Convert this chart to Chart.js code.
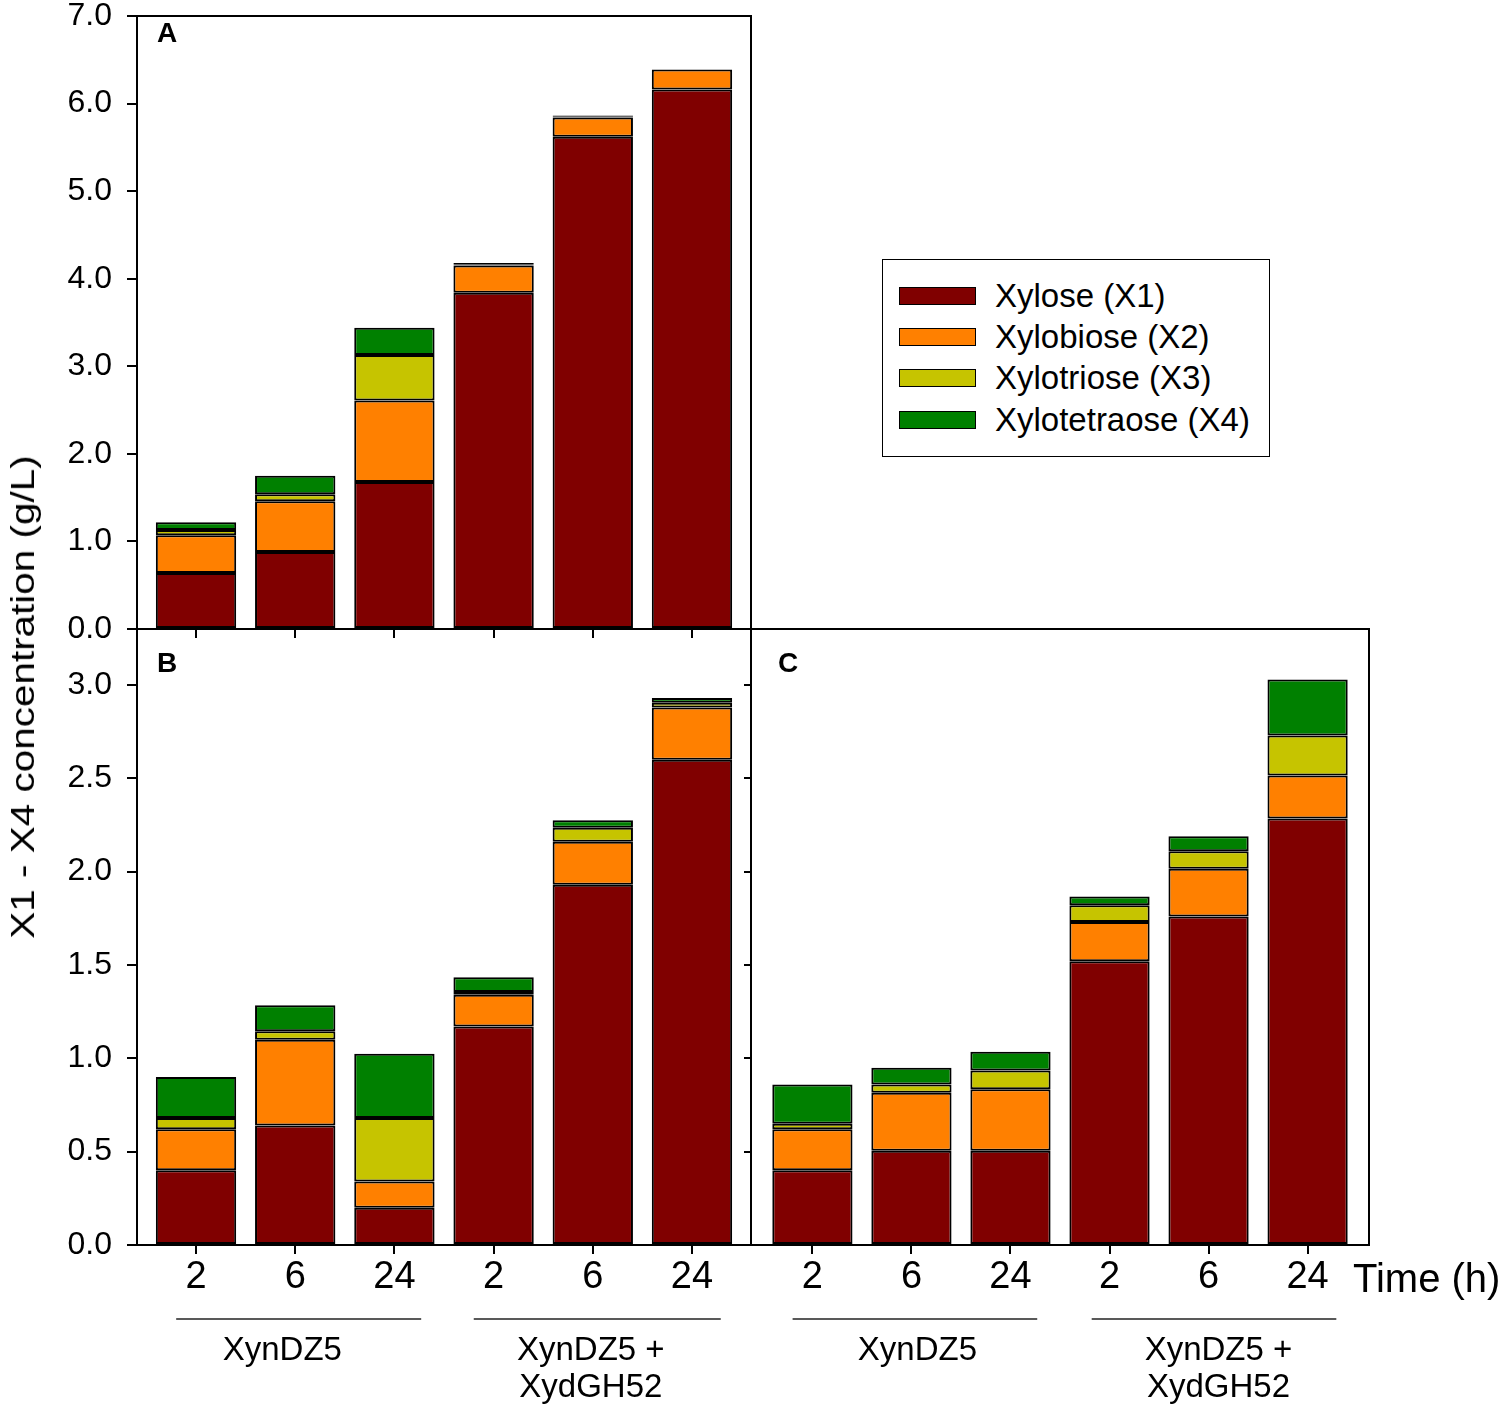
<!DOCTYPE html>
<html>
<head>
<meta charset="utf-8">
<script src="https://cdn.jsdelivr.net/npm/chart.js@4.4.1/dist/chart.umd.min.js"></script>
<style>
html,body{margin:0;padding:0;background:#fff;}
#wrap{position:relative;width:1500px;height:1408px;overflow:hidden;background:#fff;font-family:'Liberation Sans',Arial,sans-serif;color:#000;}
canvas{position:absolute;}
#cA{left:0;top:0;}
#cB{left:0;top:610px;}
#cC{left:740px;top:610px;}
#ytitle{position:absolute;left:22px;top:697px;font-size:34px;line-height:1;white-space:nowrap;transform:translate(-50%,-50%) rotate(-90deg) scale(1.19,1);}
#legend{position:absolute;left:882px;top:259px;width:386px;height:196px;border:1.5px solid #000;background:#fff;}
.lrow{position:absolute;left:0;width:386px;height:40px;}
.sw{position:absolute;left:16px;top:11px;width:75px;height:16px;border:1px solid #000;}
.lt{position:absolute;left:112px;top:0;height:40px;line-height:40px;font-size:33px;white-space:nowrap;}
</style>
</head>
<body>
<div id="wrap">
  <canvas id="cA" width="760" height="660"></canvas>
  <canvas id="cB" width="760" height="798"></canvas>
  <canvas id="cC" width="760" height="798"></canvas>
  <div id="ytitle">X1 - X4 concentration (g/L)</div>
  <div id="legend"></div>
</div>
<script>
// ---------- data ----------
const timeLabels = ['2', '6', '24', '2', '6', '24'];
const groupNames = ['XynDZ5', ['XynDZ5 +', 'XydGH52']];
const seriesNames = ['Xylose (X1)', 'Xylobiose (X2)', 'Xylotriose (X3)', 'Xylotetraose (X4)'];

const yTicksA = [0, 1, 2, 3, 4, 5, 6, 7];
const yTicksBC = [0, 0.5, 1.0, 1.5, 2.0, 2.5, 3.0];

// Panel A
const xyloseA      = [0.64, 0.88, 1.68, 3.84, 5.62, 6.16];
const xylobioseA   = [0.43, 0.58, 0.93, 0.31, 0.22, 0.23];
const xylotrioseA  = [0.06, 0.08, 0.52, 0.01, 0.01, 0.00];
const xylotetraA   = [0.09, 0.21, 0.31, 0.02, 0.015, 0.00];

// Panel B
const xyloseB      = [0.40, 0.64, 0.20, 1.17, 1.93, 2.60];
const xylobioseB   = [0.22, 0.46, 0.14, 0.17, 0.23, 0.28];
const xylotrioseB  = [0.06, 0.045, 0.34, 0.015, 0.075, 0.025];
const xylotetraB   = [0.22, 0.14, 0.345, 0.08, 0.04, 0.025];

// Panel C
const xyloseC      = [0.40, 0.505, 0.505, 1.52, 1.76, 2.285];
const xylobioseC   = [0.22, 0.31, 0.33, 0.21, 0.255, 0.23];
const xylotrioseC  = [0.03, 0.045, 0.10, 0.09, 0.095, 0.215];
const xylotetraC   = [0.21, 0.09, 0.10, 0.047, 0.08, 0.30];

// ---------- styles ----------
const seriesColors = ['#800000', '#FF8000', '#C6C400', '#008000'];
const FONT = "'Liberation Sans', Arial, sans-serif";
Chart.defaults.font.family = FONT;
Chart.defaults.color = '#000';

function ds(vals, k) {
  return {
    label: seriesNames[k],
    data: vals.map((v, i) => ({ x: i, y: v })),
    backgroundColor: seriesColors[k],
    borderColor: '#000',
    borderWidth: 2,
    borderSkipped: false,
    barPercentage: 0.81,
    categoryPercentage: 1
  };
}

const decor = {
  id: 'decor',
  afterDraw(chart, args, o) {
    const { ctx, chartArea: a, scales: { x } } = chart;
    ctx.save();
    ctx.strokeStyle = '#000';
    ctx.lineWidth = 2;
    ctx.strokeRect(a.left, a.top, a.right - a.left, a.bottom - a.top);
    ctx.fillStyle = '#000';
    ctx.font = 'bold 28px ' + FONT;
    ctx.textBaseline = 'middle';
    ctx.textAlign = 'left';
    ctx.fillText(o.letter, a.left + o.lx, a.top + o.ly);
    if (o.groups) {
      ctx.lineWidth = 1.5;
      ctx.strokeStyle = '#222';
      ctx.font = '33px ' + FONT;
      ctx.textAlign = 'center';
      o.groups.forEach((g, k) => {
        const y = a.bottom + 74;
        ctx.beginPath();
        ctx.moveTo(x.getPixelForValue(g.from), y);
        ctx.lineTo(x.getPixelForValue(g.to), y);
        ctx.stroke();
        [].concat(groupNames[k]).forEach((t, j) => {
          ctx.fillText(t, x.getPixelForValue(g.at), a.bottom + 106 + j * 37);
        });
      });
    }
    if (o.time) {
      ctx.font = '40px ' + FONT;
      ctx.textAlign = 'left';
      ctx.fillText('Time (h)', a.right - 16, a.bottom + 36);
    }
    ctx.restore();
  }
};

function fixFit(w, h) {
  return (s) => {
    if (w !== null) s.width = w;
    if (h !== null) s.height = h;
    s.paddingTop = 0; s.paddingBottom = 0; s.paddingLeft = 0; s.paddingRight = 0;
  };
}

function makeChart(id, sets, cfg) {
  return new Chart(document.getElementById(id), {
    type: 'bar',
    data: { datasets: sets.map((v, k) => ds(v, k)) },
    plugins: [decor],
    options: {
      responsive: false,
      animation: false,
      devicePixelRatio: 1,
      layout: { padding: cfg.padding },
      plugins: {
        legend: { display: false },
        tooltip: { enabled: false },
        decor: cfg.decor
      },
      scales: {
        x: {
          type: 'linear',
          offset: false,
          stacked: true,
          min: cfg.xmin, max: cfg.xmax,
          afterBuildTicks: (ax) => { ax.ticks = timeLabels.map((c, i) => ({ value: i })); },
          afterFit: fixFit(null, cfg.xh),
          ticks: {
            display: cfg.xlabels,
            autoSkip: false,
            maxRotation: 0,
            padding: 5,
            font: { size: 38, lineHeight: 1 },
            color: '#000',
            callback: (v) => timeLabels[v]
          },
          grid: { offset: false, drawOnChartArea: false, drawTicks: true, tickLength: 9, color: '#000', lineWidth: 2 },
          border: { display: true, color: '#000', width: 2 }
        },
        y: {
          stacked: true,
          min: 0, max: cfg.ymax,
          afterBuildTicks: (ax) => { ax.ticks = cfg.yticks.map(v => ({ value: v })); },
          afterFit: fixFit(cfg.yw, null),
          ticks: {
            display: cfg.ylabels,
            padding: 15,
            font: { size: 32, lineHeight: 1 },
            color: '#000',
            callback: (v) => Number(v).toFixed(1)
          },
          grid: { drawOnChartArea: false, drawTicks: true, tickLength: cfg.ytl, color: '#000', lineWidth: 2 },
          border: { display: true, color: '#000', width: 2 }
        }
      }
    }
  });
}

makeChart('cA', [xyloseA, xylobioseA, xylotrioseA, xylotetraA], {
  padding: { top: 16, right: 9, left: 0, bottom: 0 },
  xmin: -0.595, xmax: 5.595, xh: 31, xlabels: false,
  ymax: 7, yticks: yTicksA, yw: 137, ylabels: true, ytl: 10,
  decor: { letter: 'A', lx: 20, ly: 18 }
});

makeChart('cB', [xyloseB, xylobioseB, xylotrioseB, xylotetraB], {
  padding: { top: 19, right: 9, left: 0, bottom: 0 },
  xmin: -0.595, xmax: 5.595, xh: 163, xlabels: true,
  ymax: 3.3, yticks: yTicksBC, yw: 137, ylabels: true, ytl: 10,
  decor: { letter: 'B', lx: 20, ly: 35,
           groups: [{ from: -0.2, to: 2.27, at: 0.87 }, { from: 2.8, to: 5.29, at: 3.98 }] }
});

makeChart('cC', [xyloseC, xylobioseC, xylotrioseC, xylotetraC], {
  padding: { top: 19, right: 131, left: 0, bottom: 0 },
  xmin: -0.62, xmax: 5.62, xh: 163, xlabels: true,
  ymax: 3.3, yticks: yTicksBC, yw: 11, ylabels: false, ytl: 7,
  decor: { letter: 'C', lx: 27, ly: 35, time: true,
           groups: [{ from: -0.2, to: 2.27, at: 1.06 }, { from: 2.82, to: 5.29, at: 4.1 }] }
});

// legend built from the series
const leg = document.getElementById('legend');
const rowCenters = [36, 77, 118, 160];
seriesNames.forEach((name, k) => {
  const row = document.createElement('div');
  row.className = 'lrow';
  row.style.top = (rowCenters[k] - 20) + 'px';
  const sw = document.createElement('div');
  sw.className = 'sw';
  sw.style.background = seriesColors[k];
  const t = document.createElement('div');
  t.className = 'lt';
  t.textContent = name;
  row.appendChild(sw); row.appendChild(t);
  leg.appendChild(row);
});
</script>
</body>
</html>
